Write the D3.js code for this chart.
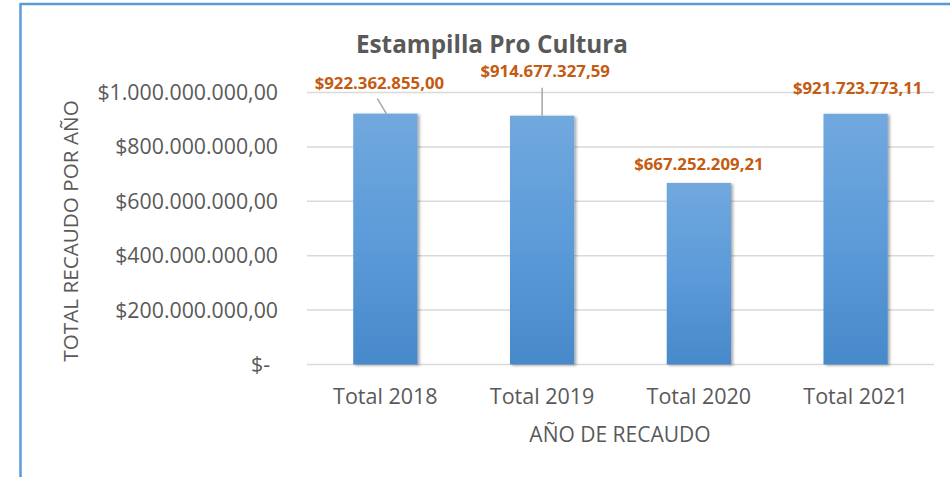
<!DOCTYPE html>
<html lang="es">
<head>
    <meta charset="UTF-8">
    <title>Estampilla Pro Cultura</title>
    <script src="https://d3js.org/d3.v7.min.js"></script>
    <style>
        body {
            margin: 0;
            padding: 0;
            background: #ffffff;
            font-family: 'Open Sans', 'Noto Sans', sans-serif;
        }
        svg { display: block; }
    </style>
</head>
<body>
<svg id="chart" width="950" height="477"></svg>

<script>
    // chart data
    const categories = ["Total 2018", "Total 2019", "Total 2020", "Total 2021"];
    const values = [922362855.00, 914677327.59, 667252209.21, 921723773.11];
    const valueLabels = ["$922.362.855,00", "$914.677.327,59", "$667.252.209,21", "$921.723.773,11"];
    const yTicks = [0, 200000000, 400000000, 600000000, 800000000, 1000000000];
    const yTickLabels = ["$-", "$200.000.000,00", "$400.000.000,00", "$600.000.000,00", "$800.000.000,00", "$1.000.000.000,00"];

    const svg = d3.select("#chart");
    const width = 950, height = 477;
    const margin = {top: 92.5, right: 16, bottom: 112.5, left: 307};

    const textGray = "#595959";
    const labelOrange = "#c55a11";

    // frame of the chart area (left and top edges visible)
    svg.append("line")
        .attr("x1", 20.5).attr("y1", 4).attr("x2", 20.5).attr("y2", height)
        .attr("stroke", "#5b9bd5").attr("stroke-width", 2.5);
    svg.append("line")
        .attr("x1", 19.5).attr("y1", 4).attr("x2", width).attr("y2", 4)
        .attr("stroke", "#5b9bd5").attr("stroke-width", 2.5);

    const defs = svg.append("defs");
    const grad = defs.append("linearGradient")
        .attr("id", "barGrad")
        .attr("x1", 0).attr("y1", 0).attr("x2", 0).attr("y2", 1);
    grad.append("stop").attr("offset", "0%").attr("stop-color", "#71a8de");
    grad.append("stop").attr("offset", "50%").attr("stop-color", "#5c9bd9");
    grad.append("stop").attr("offset", "100%").attr("stop-color", "#4889ca");

    const shadow = defs.append("filter")
        .attr("id", "barShadow")
        .attr("x", "-20%").attr("y", "-10%").attr("width", "150%").attr("height", "120%");
    shadow.append("feDropShadow")
        .attr("dx", 2).attr("dy", 1).attr("stdDeviation", 1.6)
        .attr("flood-color", "#000").attr("flood-opacity", 0.35);

    const x = d3.scaleBand()
        .domain(categories)
        .range([margin.left, width - margin.right])
        .paddingInner(0.59)
        .paddingOuter(0.295);

    const y = d3.scaleLinear()
        .domain([0, 1000000000])
        .range([height - margin.bottom, margin.top]);

    // gridlines
    svg.append("g")
        .selectAll("line")
        .data(yTicks)
        .join("line")
        .attr("x1", margin.left)
        .attr("x2", width - margin.right)
        .attr("y1", d => y(d))
        .attr("y2", d => y(d))
        .attr("stroke", "#d9d9d9")
        .attr("stroke-width", 1.5);

    // y tick labels
    svg.append("g")
        .selectAll("text")
        .data(yTicks)
        .join("text")
        .attr("x", 278)
        .attr("dx", (d, i) => i === 0 ? -8 : 0)
        .attr("y", d => y(d))
        .attr("dy", "0.35em")
        .attr("text-anchor", "end")
        .attr("fill", textGray)
        .style("font-size", "21.3px")
        .text((d, i) => yTickLabels[i]);

    // bars
    svg.append("g")
        .selectAll("rect")
        .data(values)
        .join("rect")
        .attr("x", (d, i) => x(categories[i]))
        .attr("width", x.bandwidth())
        .attr("y", d => y(d))
        .attr("height", d => y(0) - y(d))
        .attr("fill", "url(#barGrad)")
        .attr("filter", "url(#barShadow)");

    // data labels were moved by hand in the original, keep the offsets here
    const labelDx = [-6, 3, 0, 2];
    const labelDy = [-25, -39, -13, -20];

    // leader lines for the moved labels
    const leaders = [
        {i: 0, fromDx: -8, fromDy: -15, toDx: 1, toDy: 0},
        {i: 1, fromDx: 0, fromDy: -28, toDx: 0, toDy: 0}
    ];
    svg.append("g")
        .selectAll("line")
        .data(leaders)
        .join("line")
        .attr("x1", d => x(categories[d.i]) + x.bandwidth() / 2 + d.fromDx)
        .attr("y1", d => y(values[d.i]) + d.fromDy)
        .attr("x2", d => x(categories[d.i]) + x.bandwidth() / 2 + d.toDx)
        .attr("y2", d => y(values[d.i]) + d.toDy)
        .attr("stroke", "#a6a6a6")
        .attr("stroke-width", 1.5);

    svg.append("g")
        .selectAll("text")
        .data(values)
        .join("text")
        .attr("x", (d, i) => x(categories[i]) + x.bandwidth() / 2 + labelDx[i])
        .attr("y", (d, i) => y(d) + labelDy[i])
        .attr("text-anchor", "middle")
        .attr("fill", labelOrange)
        .style("font-size", "16.8px")
        .style("font-weight", "bold")
        .text((d, i) => valueLabels[i]);

    // x axis labels
    svg.append("g")
        .selectAll("text")
        .data(categories)
        .join("text")
        .attr("x", d => x(d) + x.bandwidth() / 2)
        .attr("y", 404)
        .attr("text-anchor", "middle")
        .attr("fill", textGray)
        .style("font-size", "21.5px")
        .text(d => d);

    // title
    svg.append("text")
        .attr("x", 492)
        .attr("y", 53)
        .attr("text-anchor", "middle")
        .attr("fill", textGray)
        .style("font-size", "24.3px")
        .style("font-weight", "bold")
        .text("Estampilla Pro Cultura");

    // axis titles
    svg.append("text")
        .attr("x", 620)
        .attr("y", 442)
        .attr("text-anchor", "middle")
        .attr("fill", textGray)
        .style("font-size", "21px")
        .text("AÑO DE RECAUDO");

    svg.append("text")
        .attr("transform", "translate(78,231) rotate(-90)")
        .attr("text-anchor", "middle")
        .attr("fill", textGray)
        .style("font-size", "20.7px")
        .text("TOTAL RECAUDO POR AÑO");
</script>
</body>
</html>
